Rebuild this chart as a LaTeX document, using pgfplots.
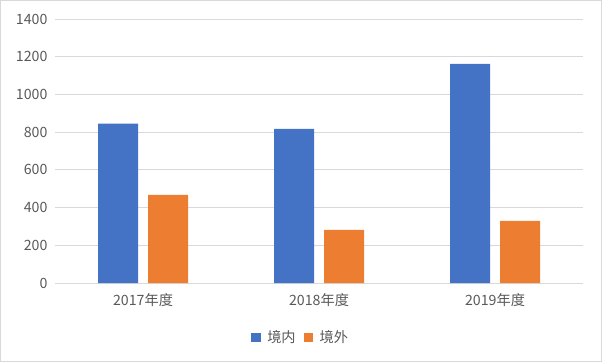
\documentclass[border=0pt]{standalone}
\usepackage{pgfplots}
\pgfplotsset{compat=1.18}
\usepackage{fontspec}
\setmainfont{Noto Sans CJK SC}
\definecolor{cblue}{HTML}{4472C4}
\definecolor{corange}{HTML}{ED7D31}
\definecolor{gridc}{HTML}{D9D9D9}
\definecolor{txt}{HTML}{595959}
\begin{document}
\begin{tikzpicture}[x=1bp,y=1bp]
\path[use as bounding box] (0,0) rectangle (602,362);
\draw[gridc, line width=0.8bp] (0.5,0.5) rectangle (601.5,361.5);
\begin{axis}[
  at={(55bp,79bp)}, anchor=south west,
  scale only axis, width=528bp, height=264bp,
  xmin=-0.5, xmax=2.5, ymin=0, ymax=1400,
  ytick={0,200,...,1400},
  xtick={0,1,2},
  xticklabels={2017年度,2018年度,2019年度},
  ybar=10bp, bar width=40bp,
  axis line style={draw=none},
  ymajorgrids, grid style={gridc, line width=0.8bp},
  major tick length=0pt,
  tick label style={font=\fontsize{14.2bp}{16bp}\selectfont, text=txt},
  /pgf/number format/assume math mode=true,
  /pgf/number format/1000 sep={},
  yticklabel style={xshift=-4bp},
  xticklabel style={yshift=-7bp},
  legend style={draw=none, at={(0.4634,-0.206)}, anchor=center, legend columns=2,
    inner sep=0pt, nodes={inner sep=0pt},
    font=\fontsize{14.2bp}{16bp}\selectfont, text=txt,
    /tikz/every odd column/.append style={column sep=6.6bp},
    /tikz/every even column/.append style={column sep=8bp}},
  legend image code/.code={\fill[#1] (0bp,-4.7bp) rectangle (9.4bp,4.7bp);},
  legend cell align=left,
]
\addplot[fill=cblue, draw=none] coordinates {(0,845) (1,817) (2,1162)};
\addplot[fill=corange, draw=none] coordinates {(0,468) (1,282) (2,330)};
\legend{境内,境外}
\end{axis}
\end{tikzpicture}
\end{document}
